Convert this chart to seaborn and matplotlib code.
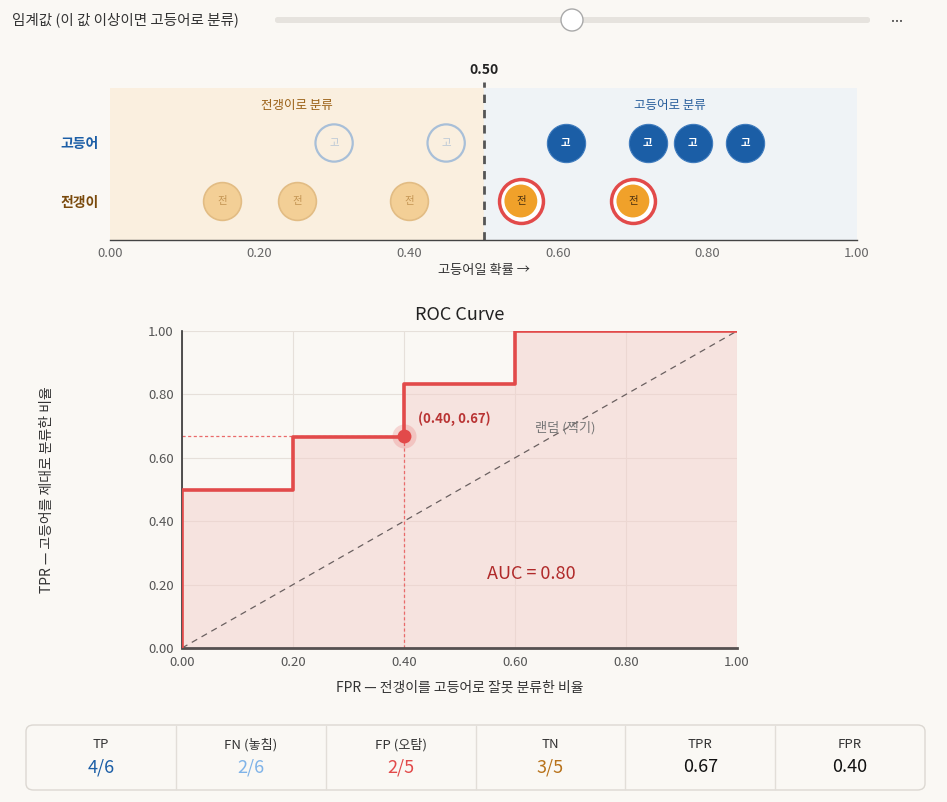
import matplotlib.pyplot as plt
import matplotlib.patches as mpatches
import numpy as np
import pandas as pd
import seaborn as sns

# scores
mackerel_probs = [0.30, 0.45, 0.61, 0.72, 0.78, 0.85]   # 고등어
horse_probs = [0.15, 0.25, 0.40, 0.55, 0.70]            # 전갱이
threshold = 0.50

# ROC corners
roc_fpr = [0.0, 0.0, 0.2, 0.2, 0.4, 0.4, 0.6, 0.6, 1.0]
roc_tpr = [0.0, 0.5, 0.5, 0.667, 0.667, 0.833, 0.833, 1.0, 1.0]
auc = 0.80
op_fpr, op_tpr = 0.40, 0.67

stat_labels = ["TP", "FN (놓침)", "FP (오탐)", "TN", "TPR", "FPR"]
stat_values = ["4/6", "2/6", "2/5", "3/5", "0.67", "0.40"]

sns.set_theme(style="white")
plt.rcParams['font.family'] = ['Noto Sans CJK KR', 'DejaVu Sans']

BG = "#faf8f4"
BLUE = "#1b5ea6"
RED = "#e24a4a"
W, H = 947, 802

def px(x0, y0, w, h):
    # pixel box (top-left origin) -> figure fraction
    return [x0 / W, 1 - (y0 + h) / H, w / W, h / H]

fig = plt.figure(figsize=(9.47, 8.02), dpi=100, facecolor=BG)

# ---------------- slider header ----------------
fig.text(12 / W, 1 - 20 / H, "임계값 (이 값 이상이면 고등어로 분류)", fontsize=10.5,
         color="#333333", va="center", ha="left")
fig.patches.append(mpatches.FancyBboxPatch((275 / W, 1 - 23 / H), 595 / W, 6 / H,
                   boxstyle="round,pad=0,rounding_size=0.003", transform=fig.transFigure,
                   facecolor="#e6e3de", edgecolor="none"))
fig.patches.append(mpatches.Ellipse((572 / W, 1 - 20 / H), 22 / W, 22 / H,
                   transform=fig.transFigure, facecolor="white", edgecolor="#a9a9a9", lw=1))
fig.text(897 / W, 1 - 22 / H, "•••", fontsize=5, color="#444444", family="DejaVu Sans",
         ha="center", va="center")

# ---------------- strip chart ----------------
ax1 = fig.add_axes(px(110, 88, 747, 152))
ax1.set_facecolor(BG)
ax1.set_xlim(0, 1)
ax1.set_ylim(-0.672, 1.948)
ax1.axvspan(0, threshold, color="#faefdf", zorder=0)
ax1.axvspan(threshold, 1, color="#eff3f6", zorder=0)
ax1.axvline(threshold, ymin=0, ymax=1.04, color="#555555", lw=2, ls=(0, (3, 2.5)),
            clip_on=False, zorder=1)
ax1.text(threshold, 2.25, "0.50", fontsize=10, fontweight="bold", color="#222222",
         ha="center", va="center", clip_on=False)
ax1.text(0.25, 1.65, "전갱이로 분류", fontsize=9, color="#9a5f14", ha="center", va="center")
ax1.text(0.75, 1.65, "고등어로 분류", fontsize=9, color="#2a5f9c", ha="center", va="center")

df = pd.DataFrame({
    "prob": mackerel_probs + horse_probs,
    "fish": ["고등어"] * len(mackerel_probs) + ["전갱이"] * len(horse_probs),
})
df["row"] = np.where(df["fish"] == "고등어", 1, 0)
df["pred_mackerel"] = df["prob"] >= threshold

tp = df[(df.row == 1) & df.pred_mackerel]
fn = df[(df.row == 1) & ~df.pred_mackerel]
fp = df[(df.row == 0) & df.pred_mackerel]
tn = df[(df.row == 0) & ~df.pred_mackerel]

sns.scatterplot(data=fn, x="prob", y="row", ax=ax1, s=720, facecolor="none",
                edgecolor="#a8bfd8", linewidth=1.6, zorder=3, legend=False)
sns.scatterplot(data=tp, x="prob", y="row", ax=ax1, s=760, color=BLUE,
                edgecolor="#3f7bbd", linewidth=0.8, zorder=3, legend=False)
sns.scatterplot(data=tn, x="prob", y="row", ax=ax1, s=740, color="#f3cf96",
                edgecolor="#e2bc84", linewidth=1.2, zorder=3, legend=False)
sns.scatterplot(data=fp, x="prob", y="row", ax=ax1, s=1000, color="white",
                edgecolor=RED, linewidth=2.5, zorder=3, legend=False)
sns.scatterplot(data=fp, x="prob", y="row", ax=ax1, s=560, color="#f0a12a",
                edgecolor="none", zorder=4, legend=False)

for sub, txt, col, wt in [(fn, "고", "#bac7d6", "normal"), (tp, "고", "white", "bold"),
                          (tn, "전", "#c49553", "normal"), (fp, "전", "#4a3010", "normal")]:
    for p, r in zip(sub["prob"], sub["row"]):
        ax1.text(p, r, txt, fontsize=7.5, color=col, fontweight=wt,
                 ha="center", va="center", zorder=5)

ax1.set_yticks([1, 0])
ax1.set_yticklabels(["고등어", "전갱이"], fontsize=10, fontweight="bold")
ax1.get_yticklabels()[0].set_color(BLUE)
ax1.get_yticklabels()[1].set_color("#7a4a0c")
ax1.tick_params(axis="y", length=0, pad=8)
ax1.set_xticks(np.arange(0, 1.01, 0.2))
ax1.set_xticklabels([f"{v:.2f}" for v in np.arange(0, 1.01, 0.2)], fontsize=9.5, color="#666666")
ax1.tick_params(axis="x", length=6, width=1, color="#444444", pad=2, direction="inout")
for s in ["top", "right", "left"]:
    ax1.spines[s].set_visible(False)
ax1.spines["bottom"].set_color("#444444")
ax1.spines["bottom"].set_linewidth(1)
ax1.set_xlabel("고등어일 확률 →", fontsize=9.5, color="#333333", labelpad=3)
ax1.set_ylabel("")

# ---------------- ROC curve ----------------
ax2 = fig.add_axes(px(182, 331, 555, 317))
ax2.set_facecolor(BG)
ax2.set_xlim(0, 1)
ax2.set_ylim(0, 1)
ax2.set_xticks(np.arange(0, 1.01, 0.2))
ax2.set_yticks(np.arange(0, 1.01, 0.2))
ax2.grid(True, color="#e6e0da", lw=0.8)
ax2.set_axisbelow(True)

ax2.fill_between(roc_fpr, roc_tpr, 0, color="#f3d0cc", alpha=0.5, lw=0, zorder=1)
sns.lineplot(x=roc_fpr, y=roc_tpr, ax=ax2, sort=False, estimator=None,
             color=RED, lw=2.6, zorder=3)
ax2.plot([0, 1], [0, 1], ls=(0, (5, 4)), color="#6a6060", lw=0.9, zorder=2)

ax2.plot([0, op_fpr], [op_tpr, op_tpr], ls=(0, (2.5, 2)), color="#ea6a6a", lw=0.9, zorder=2)
ax2.plot([op_fpr, op_fpr], [0, op_tpr], ls=(0, (2.5, 2)), color="#ea6a6a", lw=0.9, zorder=2)
ax2.scatter([op_fpr], [op_tpr], s=300, color=RED, alpha=0.2, lw=0, zorder=4)
ax2.scatter([op_fpr], [op_tpr], s=100, color=RED, lw=0, zorder=5)
ax2.text(op_fpr + 0.025, op_tpr + 0.055, f"({op_fpr:.2f}, {op_tpr:.2f})", fontsize=9.5,
         fontweight="bold", color="#b93434", ha="left", va="center")
ax2.text(0.69, 0.694, "랜덤 (찍기)", fontsize=9.5, color="#777777", ha="center", va="center")
ax2.text(0.63, 0.235, f"AUC = {auc:.2f}", fontsize=13, color="#b02a2a", ha="center", va="center")

ax2.set_xticklabels([f"{v:.2f}" for v in np.arange(0, 1.01, 0.2)], fontsize=9.5, color="#555555")
ax2.set_yticklabels([f"{v:.2f}" for v in np.arange(0, 1.01, 0.2)], fontsize=9.5, color="#555555")
ax2.tick_params(length=0, pad=6)
for s in ["top", "right"]:
    ax2.spines[s].set_visible(False)
ax2.spines["left"].set_color("#333333")
ax2.spines["left"].set_linewidth(1.2)
ax2.spines["bottom"].set_color("#555050")
ax2.spines["bottom"].set_linewidth(2)
ax2.set_title("ROC Curve", fontsize=13, fontweight="medium", color="#222222", pad=8)
ax2.set_xlabel("FPR — 전갱이를 고등어로 잘못 분류한 비율", fontsize=10, color="#333333", labelpad=8)
ax2.set_ylabel("TPR — 고등어를 제대로 분류한 비율", fontsize=10, color="#333333")
ax2.yaxis.set_label_coords(-0.23, 0.5)

# ---------------- confusion summary ----------------
box_x0, box_y0, box_w, box_h = 26, 725, 899, 65
fig.patches.append(mpatches.FancyBboxPatch((box_x0 / W, 1 - (box_y0 + box_h) / H), box_w / W, box_h / H,
                   boxstyle="round,pad=0,rounding_size=0.008", transform=fig.transFigure,
                   facecolor=BG, edgecolor="#dcd8d2", lw=1))
value_colors = [BLUE, "#7fb3e8", RED, "#b8731c", "#111111", "#111111"]
cell_w = box_w / len(stat_labels)
for i, (lab, val, col) in enumerate(zip(stat_labels, stat_values, value_colors)):
    cx = box_x0 + cell_w * (i + 0.5)
    fig.text(cx / W, 1 - 745 / H, lab, fontsize=9.5, color="#333333", ha="center", va="center")
    fig.text(cx / W, 1 - 767 / H, val, fontsize=13, color=col, ha="center", va="center")
    if i > 0:
        xd = (box_x0 + cell_w * i) / W
        fig.add_artist(plt.Line2D([xd, xd], [1 - (box_y0 + 1) / H, 1 - (box_y0 + box_h - 1) / H],
                                  transform=fig.transFigure, color="#e2ded8", lw=1))

fig.savefig("out.png", dpi=100, facecolor=BG)
